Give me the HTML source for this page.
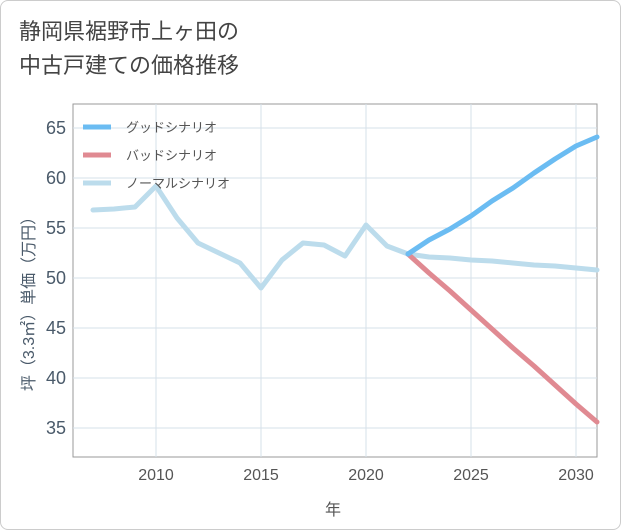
<!DOCTYPE html>
<html><head><meta charset="utf-8"><style>
body{margin:0;background:#fff;}
#wrap{position:relative;width:619px;height:528px;border:1px solid #ccc;border-radius:8px;overflow:hidden;background:#fff;font-family:"Liberation Sans","Noto Sans CJK JP",sans-serif;}
#title{position:absolute;left:18px;top:14px;font-size:22px;line-height:34px;color:#444;}
</style></head><body>
<div id="wrap">
<div id="title">静岡県裾野市上ヶ田の<br>中古戸建ての価格推移</div>
<svg id="chart" width="621" height="530" style="position:absolute;left:-1px;top:-1px"></svg>
</div>
<script>
const years=[2007,2008,2009,2010,2011,2012,2013,2014,2015,2016,2017,2018,2019,2020,2021,2022,2023,2024,2025,2026,2027,2028,2029,2030,2031];
const normalValues=[56.8,56.9,57.1,59.2,56.0,53.5,52.5,51.5,49.0,51.8,53.5,53.3,52.2,55.3,53.2,52.4,52.1,52.0,51.8,51.7,51.5,51.3,51.2,51.0,50.8];
const futureYears=[2022,2023,2024,2025,2026,2027,2028,2029,2030,2031];
const goodValues=[52.4,53.8,54.9,56.2,57.7,59.0,60.5,61.9,63.2,64.1];
const badValues=[52.4,50.5,48.7,46.8,44.9,43.0,41.2,39.3,37.4,35.6];
const xTicks=[2010,2015,2020,2025,2030];
const yTicks=[35,40,45,50,55,60,65];
const legendLabels=["グッドシナリオ","バッドシナリオ","ノーマルシナリオ"];
const colors=["#6bbcf2","#e08a92","#bcdcec"];
const L=73,R=597,T=104,B=457;
const xS=y=>156+(y-2010)*21;
const yS=v=>278-(v-50)*10;
const svg=document.getElementById('chart');
const NS='http://www.w3.org/2000/svg';
function mk(tag,attrs,parent){const e=document.createElementNS(NS,tag);for(const k in attrs)e.setAttribute(k,attrs[k]);(parent||svg).appendChild(e);return e;}
const frame=mk('rect',{x:L,y:T,width:R-L,height:B-T,fill:'none',stroke:'#999','stroke-width':1});


xTicks.forEach(t=>{
 const g=mk('line',{x1:xS(t),x2:xS(t),y1:T,y2:B,stroke:'#d5e0ea'});
 
 
 const tx=mk('text',{x:xS(t),y:480,'text-anchor':'middle','font-size':16,fill:'#555'});
 tx.textContent=t;
 
 
});
yTicks.forEach(t=>{
 const g=mk('line',{x1:L,x2:R,y1:yS(t),y2:yS(t),stroke:'#d5e0ea'});
 
 
 const tx=mk('text',{x:66,y:yS(t)+6,'text-anchor':'end','font-size':18,fill:'#4a5a6a'});
 tx.textContent=t;
 
 
});
function line(xs,vs,c,name){
 const p=mk('polyline',{points:xs.map((x,i)=>xS(x)+','+yS(vs[i])).join(' '),fill:'none',stroke:c,'stroke-width':5,'stroke-linejoin':'round','stroke-linecap':'round'});
 
 
}
line(years,normalValues,colors[2],'normal-scenario-line');
line(futureYears,badValues,colors[1],'bad-scenario-line');
line(futureYears,goodValues,colors[0],'good-scenario-line');
legendLabels.forEach((lab,i)=>{
 const y=127+i*28;
 const s=mk('line',{x1:83,x2:111,y1:y,y2:y,stroke:colors[i],'stroke-width':5});
 
 
 const t=mk('text',{x:126,y:y+5,'font-size':13,fill:'#555'});
 t.textContent=lab;
 
 
});
const xt=mk('text',{x:333,y:515,'text-anchor':'middle','font-size':16,fill:'#555'});
xt.textContent='年';


const yt=mk('text',{x:0,y:0,'text-anchor':'middle','font-size':16,fill:'#4a5a6a',transform:'translate(34,300) rotate(-90)'});
yt.textContent='坪（3.3㎡）単価（万円）';


</script>
</body></html>
